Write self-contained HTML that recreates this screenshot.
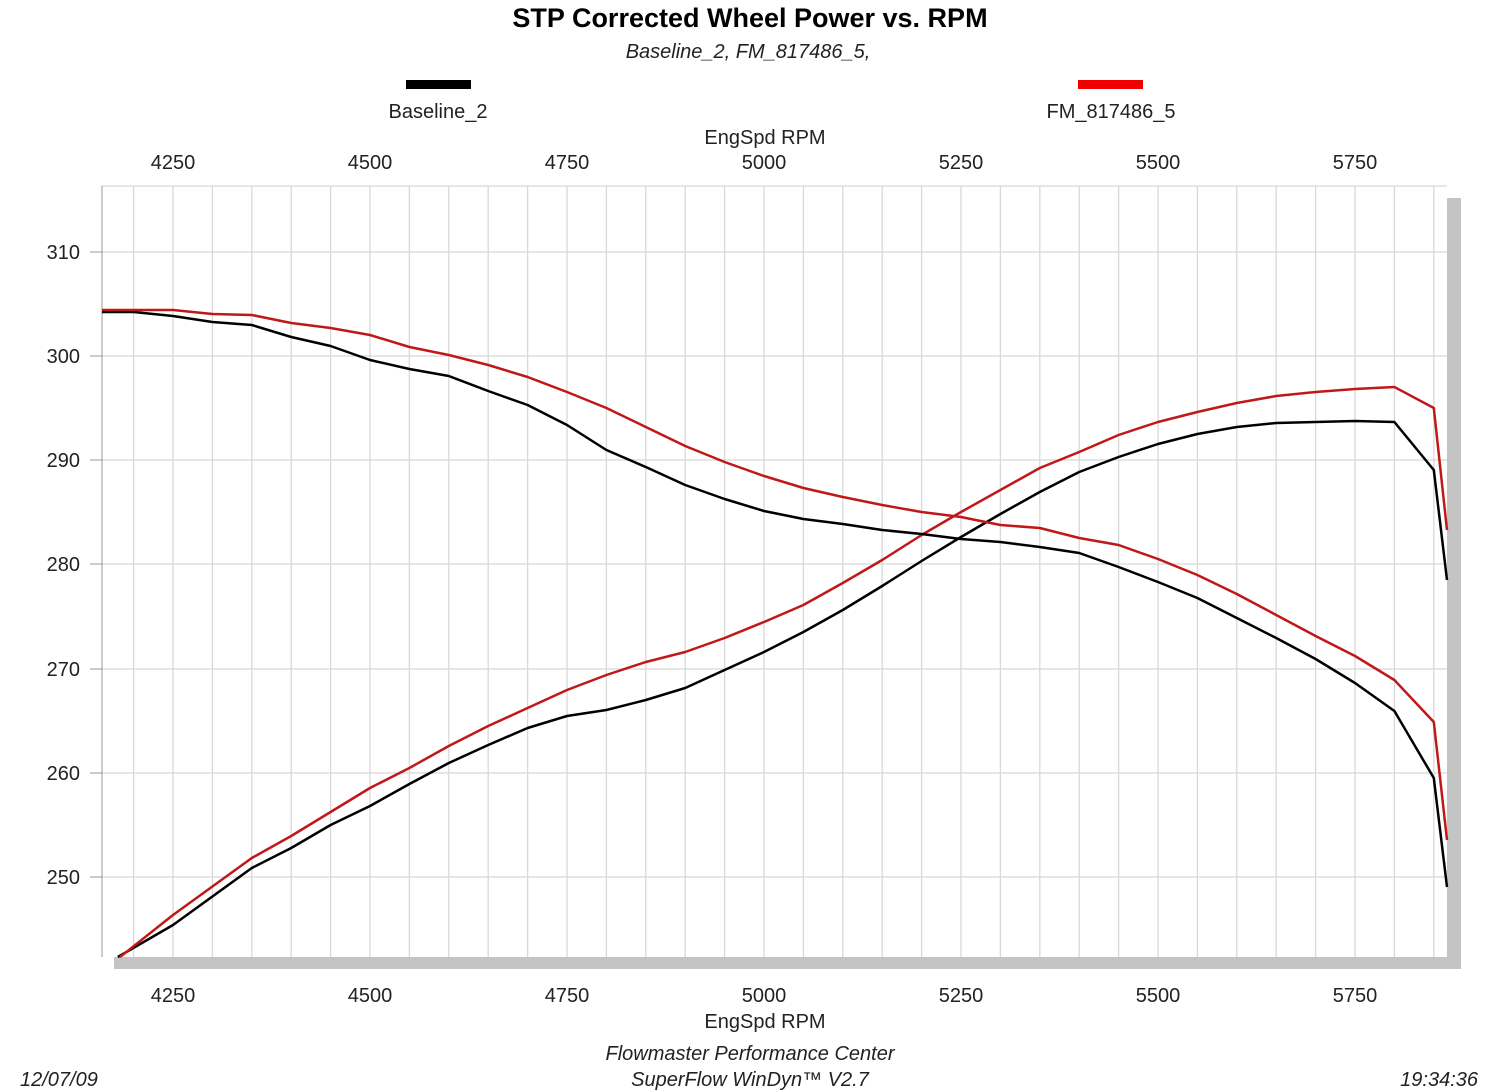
<!DOCTYPE html>
<html><head><meta charset="utf-8"><style>
body{margin:0;background:#fff;}
svg{display:block;font-family:"Liberation Sans",sans-serif;}
</style></head><body>
<svg width="1500" height="1091" viewBox="0 0 1500 1091" xmlns="http://www.w3.org/2000/svg">
<rect width="1500" height="1091" fill="#fff"/>
<text x="750" y="27" text-anchor="middle" font-size="27" font-weight="bold">STP Corrected Wheel Power vs. RPM</text>
<text x="748" y="58" text-anchor="middle" font-size="20" font-style="italic" fill="#222">Baseline_2, FM_817486_5,</text>
<rect x="406" y="80" width="65" height="9" fill="#000"/>
<text x="438" y="118" text-anchor="middle" font-size="20" fill="#222">Baseline_2</text>
<rect x="1078" y="80" width="65" height="9" fill="#e00"/>
<text x="1111" y="118" text-anchor="middle" font-size="20" fill="#222">FM_817486_5</text>
<text x="765" y="144" text-anchor="middle" font-size="20" fill="#222">EngSpd  RPM</text>
<text x="765" y="1028" text-anchor="middle" font-size="20" fill="#222">EngSpd  RPM</text>
<!-- shadow -->
<rect x="114" y="198" width="1347" height="771" fill="#c4c4c4"/>
<rect x="102" y="186" width="1345" height="771" fill="#fff"/>
<g stroke="#dcdcdc" stroke-width="1.3">
<script></script>
</g>
<g id="grid" stroke="#d8d8d8" stroke-width="1.3"></g>
<g stroke="#d8d8d8" stroke-width="1.3">
<line x1="133.6" y1="186" x2="133.6" y2="957"/><line x1="173" y1="186" x2="173" y2="957"/><line x1="212.4" y1="186" x2="212.4" y2="957"/><line x1="251.8" y1="186" x2="251.8" y2="957"/><line x1="291.2" y1="186" x2="291.2" y2="957"/><line x1="330.6" y1="186" x2="330.6" y2="957"/><line x1="370" y1="186" x2="370" y2="957"/><line x1="409.4" y1="186" x2="409.4" y2="957"/><line x1="448.8" y1="186" x2="448.8" y2="957"/><line x1="488.2" y1="186" x2="488.2" y2="957"/><line x1="527.6" y1="186" x2="527.6" y2="957"/><line x1="567" y1="186" x2="567" y2="957"/><line x1="606.4" y1="186" x2="606.4" y2="957"/><line x1="645.8" y1="186" x2="645.8" y2="957"/><line x1="685.2" y1="186" x2="685.2" y2="957"/><line x1="724.6" y1="186" x2="724.6" y2="957"/><line x1="764" y1="186" x2="764" y2="957"/><line x1="803.4" y1="186" x2="803.4" y2="957"/><line x1="842.8" y1="186" x2="842.8" y2="957"/><line x1="882.2" y1="186" x2="882.2" y2="957"/><line x1="921.6" y1="186" x2="921.6" y2="957"/><line x1="961" y1="186" x2="961" y2="957"/><line x1="1000.4" y1="186" x2="1000.4" y2="957"/><line x1="1039.8" y1="186" x2="1039.8" y2="957"/><line x1="1079.2" y1="186" x2="1079.2" y2="957"/><line x1="1118.6" y1="186" x2="1118.6" y2="957"/><line x1="1158" y1="186" x2="1158" y2="957"/><line x1="1197.4" y1="186" x2="1197.4" y2="957"/><line x1="1236.8" y1="186" x2="1236.8" y2="957"/><line x1="1276.2" y1="186" x2="1276.2" y2="957"/><line x1="1315.6" y1="186" x2="1315.6" y2="957"/><line x1="1355" y1="186" x2="1355" y2="957"/><line x1="1394.4" y1="186" x2="1394.4" y2="957"/><line x1="1433.8" y1="186" x2="1433.8" y2="957"/>
<line x1="102" y1="252" x2="1447" y2="252"/><line x1="102" y1="356" x2="1447" y2="356"/><line x1="102" y1="460" x2="1447" y2="460"/><line x1="102" y1="564" x2="1447" y2="564"/><line x1="102" y1="669" x2="1447" y2="669"/><line x1="102" y1="773" x2="1447" y2="773"/><line x1="102" y1="877" x2="1447" y2="877"/>
<line x1="102" y1="186" x2="1447" y2="186"/>
</g>
<g stroke="#999" stroke-width="1">
<line x1="90" y1="252" x2="102" y2="252"/><line x1="90" y1="356" x2="102" y2="356"/><line x1="90" y1="460" x2="102" y2="460"/><line x1="90" y1="564" x2="102" y2="564"/><line x1="90" y1="669" x2="102" y2="669"/><line x1="90" y1="773" x2="102" y2="773"/><line x1="90" y1="877" x2="102" y2="877"/>
<line x1="102" y1="186" x2="102" y2="957"/>
</g>
<g font-size="20" fill="#222" text-anchor="end">
<text x="80" y="259">310</text><text x="80" y="363">300</text><text x="80" y="467">290</text><text x="80" y="571">280</text><text x="80" y="676">270</text><text x="80" y="780">260</text><text x="80" y="884">250</text>
</g>
<g font-size="20" fill="#222" text-anchor="middle">
<text x="173" y="169">4250</text><text x="370" y="169">4500</text><text x="567" y="169">4750</text><text x="764" y="169">5000</text><text x="961" y="169">5250</text><text x="1158" y="169">5500</text><text x="1355" y="169">5750</text>
<text x="173" y="1002">4250</text><text x="370" y="1002">4500</text><text x="567" y="1002">4750</text><text x="764" y="1002">5000</text><text x="961" y="1002">5250</text><text x="1158" y="1002">5500</text><text x="1355" y="1002">5750</text>
</g>
<g fill="none" stroke-width="2.5" stroke-linejoin="round">
<polyline stroke="#000" points="117.8,957 173,925 251.8,868 291.2,848 330.6,825 370,806 409.4,784 448.8,763 488.2,745 527.6,728 567,716 606.4,710 645.8,700 685.2,688 724.6,670 764,652 803.4,632 842.8,610 882.2,586 921.6,561 961,537 1000.4,514 1039.8,492 1079.2,472 1118.6,457 1158,444 1197.4,434 1236.8,427 1276.2,423 1315.6,422 1355,421 1394.4,422 1433.8,470 1447,580"/>
<polyline stroke="#c01818" points="120,957 173,915 251.8,858 291.2,836 330.6,812 370,788 409.4,768 448.8,746 488.2,726 527.6,708 567,690 606.4,675 645.8,662 685.2,652 724.6,638 764,622 803.4,605 842.8,583 882.2,560 921.6,535 961,512 1000.4,490 1039.8,468 1079.2,452 1118.6,435 1158,422 1197.4,412 1236.8,403 1276.2,396 1315.6,392 1355,389 1394.4,387 1433.8,408 1447,530"/>
<polyline stroke="#000" points="102,312 133.6,312 173,316 212.4,322 251.8,325 291.2,337 330.6,346 370,360 409.4,369 448.8,376 488.2,391 527.6,405 567,425 606.4,450 645.8,467 685.2,485 724.6,499 764,511 803.4,519 842.8,524 882.2,530 921.6,534 961,539 1000.4,542 1039.8,547 1079.2,553 1118.6,567 1158,582 1197.4,598 1236.8,618 1276.2,638 1315.6,659 1355,683 1394.4,711 1433.8,778 1447,887"/>
<polyline stroke="#c01818" points="102,310 173,310 212.4,314 251.8,315 291.2,323 330.6,328 370,335 409.4,347 448.8,355 488.2,365 527.6,377 567,392 606.4,408 645.8,427 685.2,446 724.6,462 764,476 803.4,488 842.8,497 882.2,505 921.6,512 961,517 1000.4,525 1039.8,528 1079.2,538 1118.6,545 1158,559 1197.4,575 1236.8,594 1276.2,615 1315.6,636 1355,656 1394.4,680 1433.8,722 1447,840"/>
</g>
<g font-size="20" font-style="italic" fill="#222">
<text x="750" y="1060" text-anchor="middle">Flowmaster Performance Center</text>
<text x="750" y="1086" text-anchor="middle">SuperFlow WinDyn™ V2.7</text>
<text x="20" y="1086">12/07/09</text>
<text x="1478" y="1086" text-anchor="end">19:34:36</text>
</g>
</svg>
</body></html>
